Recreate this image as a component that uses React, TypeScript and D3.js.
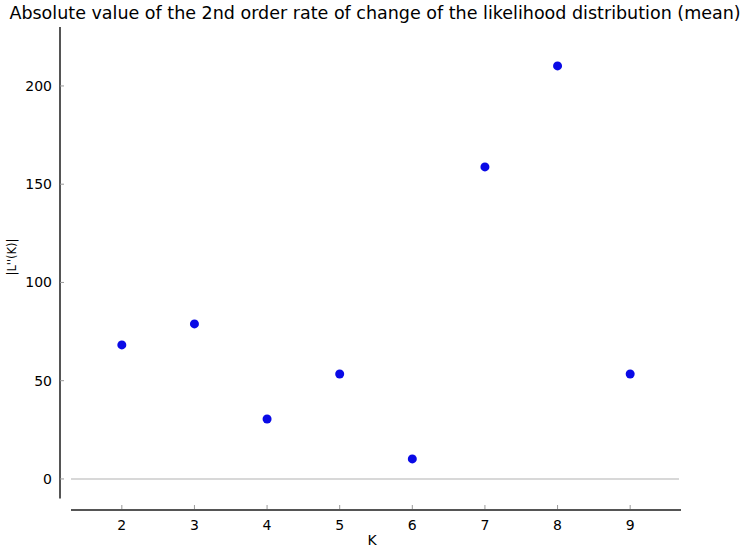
import React, { useLayoutEffect, useRef, useState } from "react";
import * as d3 from "d3";

const ks = [2, 3, 4, 5, 6, 7, 8, 9];
const values = [68.2, 78.9, 30.5, 53.4, 10.2, 158.8, 210.2, 53.4];
const yTicks = [0, 50, 100, 150, 200];
const title = "Absolute value of the 2nd order rate of change of the likelihood distribution (mean)";

export default function App() {
  const W = 747, H = 547;
  const x = d3.scaleLinear().domain([1.3, 9.7]).range([71, 681]);
  const y = d3.scaleLinear().domain([-10, 230]).range([498.6, 27]);
  const font = "DejaVu Sans, sans-serif";
  const titleRef = useRef<SVGTextElement>(null);
  const [sx, setSx] = useState(1);
  useLayoutEffect(() => {
    if (titleRef.current) {
      const w = titleRef.current.getComputedTextLength();
      if (w > 0) setSx(732 / w);
    }
  }, []);
  return (
    <svg width={W} height={H} style={{ position: "absolute", left: 0, top: 0 }}>
      <rect width={W} height={H} fill="#fff" />
      <g transform={`translate(375,19) scale(${sx},1)`}>
        <text ref={titleRef} x={0} y={0} textAnchor="middle" fontFamily={font} fontSize={18.5} fill="#000">
          {title}
        </text>
      </g>
      <line x1={71} x2={679} y1={y(0)} y2={y(0)} stroke="#d8d8d8" strokeWidth={2} />
      <line x1={60} x2={60} y1={y(230)} y2={y(-10)} stroke="#555" strokeWidth={2} />
      {yTicks.map((t) => (
        <g key={t}>
          <line x1={60} x2={64} y1={y(t)} y2={y(t)} stroke="#999" strokeWidth={1} />
          <text x={52} y={y(t)} dy="0.36em" textAnchor="end" fontFamily={font} fontSize={14} fill="#000">{t}</text>
        </g>
      ))}
      <line x1={71} x2={681} y1={510} y2={510} stroke="#555" strokeWidth={2} />
      {ks.map((k) => (
        <g key={k}>
          <line x1={x(k)} x2={x(k)} y1={509} y2={505} stroke="#999" strokeWidth={1} />
          <text x={x(k)} y={530} textAnchor="middle" fontFamily={font} fontSize={14} fill="#000">{k}</text>
        </g>
      ))}
      <text x={372} y={545} textAnchor="middle" fontFamily={font} fontSize={14} fill="#000">K</text>
      <g transform="translate(16,257) rotate(-90) scale(0.88,1)">
        <text x={0} y={0} textAnchor="middle" fontFamily={font} fontSize={13} fill="#000">|L''(K)|</text>
      </g>
      {ks.map((k, i) => (
        <circle key={k} cx={x(k)} cy={y(values[i])} r={4.5} fill="#0a0ae6" />
      ))}
    </svg>
  );
}
